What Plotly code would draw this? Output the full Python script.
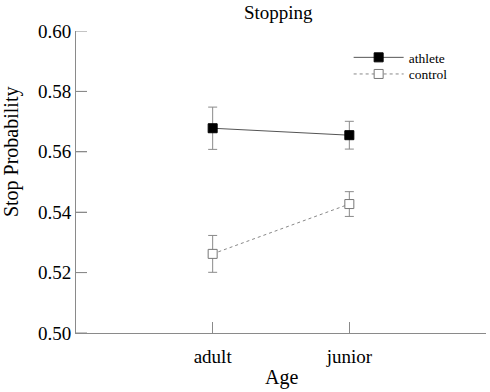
import plotly.graph_objects as go

ages = ["adult", "junior"]
athlete = [0.5678, 0.5655]
athlete_err = [0.0070, 0.0046]
control = [0.5262, 0.5427]
control_err = [0.0061, 0.0041]
y_ticks = [0.50, 0.52, 0.54, 0.56, 0.58, 0.60]

xpos = list(range(1, len(ages) + 1))
FONT = "Liberation Serif"
AX = "#8a8a8a"

fig = go.Figure()
fig.add_trace(go.Scatter(
    x=xpos, y=athlete, name="athlete", mode="lines+markers", legend="legend",
    line=dict(color="#555555", width=1),
    marker=dict(symbol="square", size=9, color="black", line=dict(color="black", width=1)),
    error_y=dict(type="data", array=athlete_err, color=AX, thickness=1, width=4.5),
))
fig.add_trace(go.Scatter(
    x=xpos, y=control, name="control", mode="lines+markers", legend="legend2",
    line=dict(color="#888888", width=1, dash="dot"),
    marker=dict(symbol="square", size=9, color="white", line=dict(color="#777777", width=1)),
    error_y=dict(type="data", array=control_err, color=AX, thickness=1, width=4.5),
))

# y-axis inward tick marks, one per tick value
for v in y_ticks:
    fig.add_shape(type="line", xref="paper", yref="y", xsizemode="pixel", xanchor=0,
                  x0=0, x1=11, y0=v, y1=v, line=dict(color=AX, width=1), layer="above")

leg = dict(xanchor="left", yanchor="middle", font=dict(size=13.5, family=FONT),
           bgcolor="rgba(0,0,0,0)", itemwidth=50)

fig.update_layout(
    width=490, height=392,
    margin=dict(l=76, r=4, t=31, b=59),
    paper_bgcolor="white", plot_bgcolor="white",
    font=dict(family=FONT, color="black"),
    title=dict(text="Stopping", x=0.568, xanchor="center", y=0.968, yanchor="middle",
               font=dict(size=19, family=FONT)),
    showlegend=True,
    legend=dict(leg, x=0.665, y=0.912),
    legend2=dict(leg, x=0.665, y=0.857),
    xaxis=dict(range=[0, len(ages) + 1], tickvals=xpos + [len(ages) + 1],
               ticktext=ages + [""], ticks="inside", ticklen=11, tickcolor=AX, tickwidth=1,
               showline=True, linecolor=AX, linewidth=1, showgrid=False, zeroline=False,
               tickfont=dict(size=19, family=FONT), ticklabelstandoff=6, automargin=False),
    yaxis=dict(range=[0.50, 0.60], tickmode="array", tickvals=y_ticks, tickformat=".2f",
               ticksuffix="\u2002",
               ticks="inside", ticklen=11, tickcolor=AX, tickwidth=1,
               showline=True, linecolor=AX, linewidth=1, showgrid=False, zeroline=False,
               tickfont=dict(size=19, family=FONT), automargin=False),
    annotations=[
        dict(text="Stop Probability", textangle=-90, xref="paper", yref="paper",
             x=-0.1585, y=0.599, xanchor="center", yanchor="middle",
             showarrow=False, font=dict(size=20, family=FONT)),
        dict(text="Age", xref="paper", yref="paper", x=0.5, y=-0.146,
             xanchor="center", yanchor="middle", showarrow=False,
             font=dict(size=20, family=FONT)),
    ],
)

fig.write_html("out.html", config={"displayModeBar": False},
               post_script="document.body.style.margin='0';document.body.style.overflow='hidden';")
